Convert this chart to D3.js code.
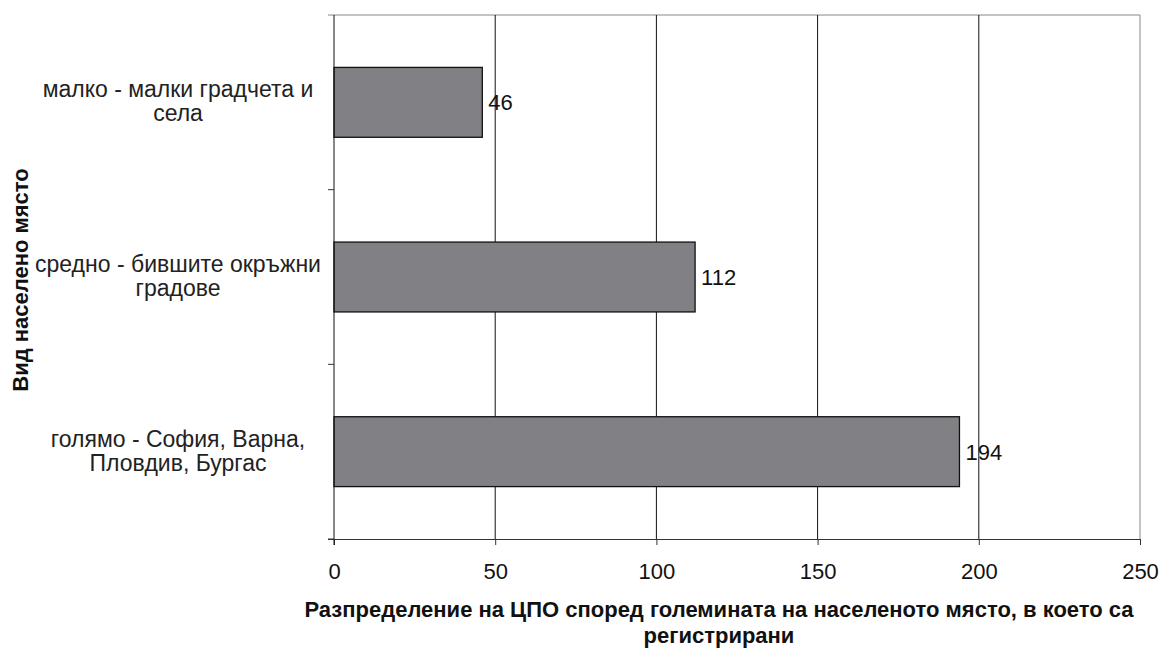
<!DOCTYPE html>
<html>
<head>
<meta charset="utf-8">
<script src="https://cdn.jsdelivr.net/npm/d3@7"></script>
<style>
  body { margin: 0; background: #fff; }
  text { font-family: "Liberation Sans", Arial, sans-serif; }
</style>
</head>
<body>
<svg id="chart" width="1162" height="648"></svg>
<script>
const categories = [
  ["малко - малки градчета и", "села"],
  ["средно - бившите окръжни", "градове"],
  ["голямо - София, Варна,", "Пловдив, Бургас"]
];
const values = [46, 112, 194];
const xTicks = [0, 50, 100, 150, 200, 250];
const xTitle = ["Разпределение на ЦПО според големината на населеното място, в което са", "регистрирани"];
const yTitle = "Вид населено място";

const svg = d3.select("#chart");
const m = { left: 334, right: 1140, top: 15, bottom: 539 };
const fs = 22;

const x = d3.scaleLinear().domain([0, 250]).range([m.left, m.right]);
const y = d3.scaleBand().domain(d3.range(categories.length)).range([m.top, m.bottom]).paddingInner(0.6).paddingOuter(0.3);

// plot frame: top and right in gray
svg.append("line").attr("x1", m.left - 6).attr("x2", m.right).attr("y1", m.top).attr("y2", m.top)
  .attr("stroke", "#888").attr("stroke-width", 1);
svg.append("line").attr("x1", m.right).attr("x2", m.right).attr("y1", m.top).attr("y2", m.bottom)
  .attr("stroke", "#888").attr("stroke-width", 1);

// vertical gridlines
svg.append("g").selectAll("line")
  .data(xTicks.filter(d => d > 0 && d < 250))
  .enter().append("line")
  .attr("x1", d => x(d)).attr("x2", d => x(d))
  .attr("y1", m.top).attr("y2", m.bottom)
  .attr("stroke", "#111").attr("stroke-width", 1);

// bars
svg.append("g").selectAll("rect")
  .data(values)
  .enter().append("rect")
  .attr("x", x(0))
  .attr("y", (d, i) => y(i))
  .attr("width", d => x(d) - x(0))
  .attr("height", y.bandwidth())
  .attr("fill", "#818185")
  .attr("stroke", "#111")
  .attr("stroke-width", 1.3);

// value labels
svg.append("g").selectAll("text")
  .data(values)
  .enter().append("text")
  .attr("x", d => x(d) + 6)
  .attr("y", (d, i) => y(i) + y.bandwidth() / 2 + 8)
  .attr("font-size", fs)
  .attr("fill", "#111")
  .text(d => d);

// x axis
const xAxis = svg.append("g").attr("transform", `translate(0,${m.bottom})`)
  .call(d3.axisBottom(x).tickValues(xTicks).tickSize(6).tickPadding(18));
xAxis.select(".domain").attr("stroke", "#333").attr("d", `M${m.left - 6},0.5H${m.right}`);
xAxis.selectAll(".tick line").attr("stroke", "#333");
xAxis.selectAll(".tick text").attr("font-size", fs).attr("fill", "#111")
  .attr("font-family", "Liberation Sans, Arial, sans-serif");

// y axis: ticks at band boundaries
const step = (m.bottom - m.top) / categories.length;
const yBoundaries = d3.range(categories.length + 1).map(i => m.top + i * step);
svg.append("line").attr("x1", m.left).attr("x2", m.left).attr("y1", m.top).attr("y2", m.bottom + 6)
  .attr("stroke", "#111").attr("stroke-width", 1);
svg.append("g").selectAll("line")
  .data(yBoundaries.slice(1))
  .enter().append("line")
  .attr("x1", m.left - 6).attr("x2", m.left)
  .attr("y1", d => d).attr("y2", d => d)
  .attr("stroke", "#333");

// category labels
const catG = svg.append("g").selectAll("text")
  .data(categories)
  .enter().append("text")
  .attr("text-anchor", "middle")
  .attr("font-size", 23)
  .attr("fill", "#222")
  .attr("y", (d, i) => y(i) + y.bandwidth() / 2 - 5);
catG.selectAll("tspan")
  .data(d => d)
  .enter().append("tspan")
  .attr("x", 178)
  .attr("dy", (d, j) => j === 0 ? 0 : 24)
  .text(d => d);

// x title
svg.append("g").selectAll("text")
  .data(xTitle)
  .enter().append("text")
  .attr("x", 719)
  .attr("y", (d, i) => 617 + i * 26)
  .attr("text-anchor", "middle")
  .attr("font-size", fs)
  .attr("font-weight", "bold")
  .attr("fill", "#111")
  .text(d => d);

// y title
svg.append("text")
  .attr("transform", `translate(28,280) rotate(-90)`)
  .attr("text-anchor", "middle")
  .attr("font-size", fs)
  .attr("font-weight", "bold")
  .attr("fill", "#111")
  .text(yTitle);
</script>
</body>
</html>
